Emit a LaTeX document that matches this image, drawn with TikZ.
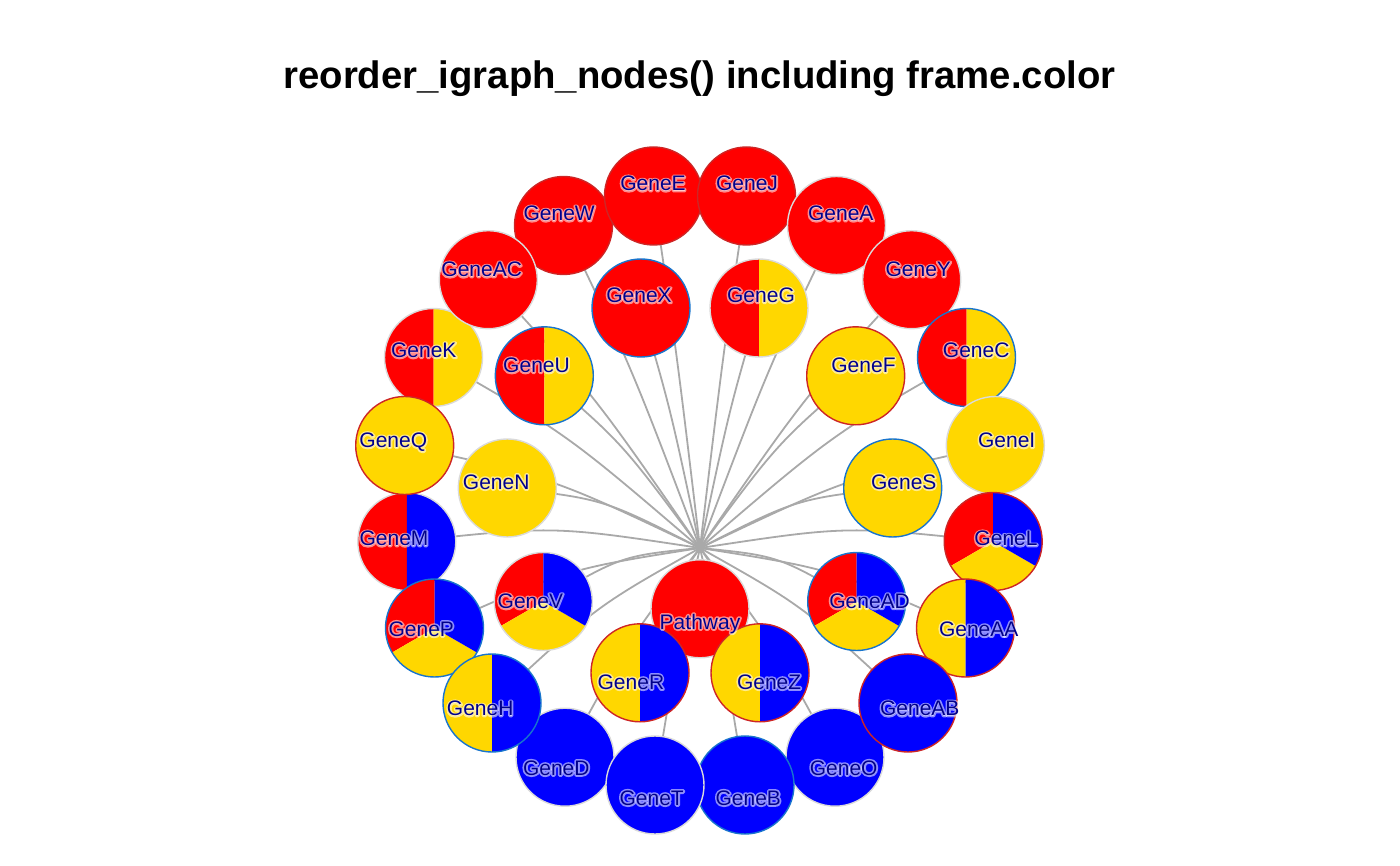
\documentclass[tikz,border=0pt]{standalone}
\usepackage{fontspec}
\usetikzlibrary{calc}
\setmainfont{Liberation Sans}
\definecolor{gred}{RGB}{255,0,0}
\definecolor{ggold}{RGB}{255,215,0}
\definecolor{gblue}{RGB}{0,0,255}
\definecolor{frgray}{RGB}{218,218,218}
\definecolor{frred}{RGB}{205,38,38}
\definecolor{frblue}{RGB}{24,116,205}
\definecolor{lblcol}{RGB}{0,0,139}
\definecolor{edgecol}{RGB}{169,169,169}
\newcommand\nrad{49}
\newcommand\lblfont{\fontsize{21}{21}\selectfont}
\newcommand\ttlfont{\bfseries\fontsize{38.3}{40}\selectfont}
\newcommand\gsolid[3]{%
  \fill[#2] (#1) circle[radius=\nrad];
  \draw[#3,nframe] (#1) circle[radius=\nrad];}
\newcommand\ghalf[4]{%
  \fill[#2] (#1) -- ++(0,\nrad) arc[start angle=90,end angle=270,radius=\nrad] -- cycle;
  \fill[#3] (#1) -- ++(0,-\nrad) arc[start angle=-90,end angle=90,radius=\nrad] -- cycle;
  \draw[#4,nframe] (#1) circle[radius=\nrad];}
\newcommand\gthird[2]{%
  \fill[gred] (#1) -- ++(90:\nrad) arc[start angle=90,end angle=210,radius=\nrad] -- cycle;
  \fill[ggold] (#1) -- ++(210:\nrad) arc[start angle=210,end angle=330,radius=\nrad] -- cycle;
  \fill[gblue] (#1) -- ++(330:\nrad) arc[start angle=330,end angle=450,radius=\nrad] -- cycle;
  \draw[#2,nframe] (#1) circle[radius=\nrad];}
\newcommand\halotxt[1]{%
  \rlap{\addfontfeature{FakeBold=16}\pgfsetroundjoin\pgfsetroundcap\pgfsetstrokeopacity{0.55}\pgfsetfillopacity{0.55}\color{white}#1}%
  \pgfsetstrokeopacity{1}\pgfsetfillopacity{1}\pgfsetmiterjoin\pgfsetbuttcap\color{lblcol}#1}
\newcommand\glab[4]{\node[lbl] (#1) at (#2,#3) {\halotxt{#4}};}
\begin{document}
\begin{tikzpicture}[x=1pt,y=1pt,
  edge/.style={draw=edgecol,line width=1.8pt},
  nframe/.style={line width=1.4pt},
  lbl/.style={font=\lblfont,anchor=base,inner sep=0pt}]
\useasboundingbox (0,0) rectangle (1400,-866);
% title
\node[font=\ttlfont,anchor=base,inner sep=0pt] (title) at (699.5,-89) {reorder\_igraph\_nodes() including frame.color};
% positions
\coordinate (hub) at (700,-548);
\coordinate (nPath) at (700,-608.8);
\coordinate (nE) at (653.5,-196);
\coordinate (nJ) at (746.5,-196);
\coordinate (nW) at (563.5,-225.5);
\coordinate (nA) at (836.5,-225.5);
\coordinate (nAC) at (488.3,-279.7);
\coordinate (nY) at (911.7,-279.7);
\coordinate (nK) at (433.5,-357.5);
\coordinate (nC) at (966.5,-357.5);
\coordinate (nQ) at (404.7,-445.5);
\coordinate (nI) at (995.3,-445.5);
\coordinate (nM) at (406.8,-541.5);
\coordinate (nL) at (993.2,-541.5);
\coordinate (nP) at (434.5,-628);
\coordinate (nAA) at (965.5,-628);
\coordinate (nH) at (492,-703);
\coordinate (nAB) at (908,-703);
\coordinate (nD) at (565,-757.2);
\coordinate (nO) at (835,-757.2);
\coordinate (nT) at (655,-785);
\coordinate (nB) at (745,-785);
\coordinate (nX) at (641,-308);
\coordinate (nG) at (759,-308);
\coordinate (nU) at (544.3,-375.8);
\coordinate (nF) at (855.7,-375.8);
\coordinate (nN) at (507.3,-488);
\coordinate (nS) at (892.7,-488);
\coordinate (nV) at (543.3,-601.5);
\coordinate (nAD) at (856.7,-601.5);
\coordinate (nR) at (640,-672.8);
\coordinate (nZ) at (760,-672.8);
% edges
\foreach \n in {E,W,AC,K,Q,M,P,H,D,T,X,U,N,V,R,J,A,Y,C,I,L,AA,AB,O,B,G,F,S,AD,Z}
  \draw[edge] (n\n) .. controls ($(n\n)!0.5!(hub)+(0,19)$) .. (hub);
% vertices
\gsolid{nPath}{gred}{frgray}
\gsolid{nW}{gred}{frred}
\gsolid{nE}{gred}{frred}
\gsolid{nJ}{gred}{frred}
\gsolid{nA}{gred}{frgray}
\gsolid{nY}{gred}{frgray}
\ghalf{nC}{gred}{ggold}{frblue}
\gsolid{nI}{ggold}{frgray}
\gthird{nL}{frred}
\ghalf{nAA}{ggold}{gblue}{frred}
\gsolid{nO}{gblue}{frgray}
\gsolid{nAB}{gblue}{frred}
\gsolid{nB}{gblue}{frblue}
\gsolid{nD}{gblue}{frgray}
\gsolid{nT}{gblue}{frgray}
\ghalf{nM}{gred}{gblue}{frgray}
\gthird{nP}{frblue}
\ghalf{nH}{ggold}{gblue}{frblue}
\ghalf{nK}{gred}{ggold}{frgray}
\gsolid{nQ}{ggold}{frred}
\gsolid{nAC}{gred}{frgray}
\gsolid{nX}{gred}{frblue}
\ghalf{nG}{gred}{ggold}{frgray}
\ghalf{nU}{gred}{ggold}{frblue}
\gsolid{nF}{ggold}{frred}
\gsolid{nN}{ggold}{frgray}
\gsolid{nS}{ggold}{frblue}
\gthird{nV}{frgray}
\gthird{nAD}{frblue}
\ghalf{nR}{ggold}{gblue}{frred}
\ghalf{nZ}{ggold}{gblue}{frred}
% labels
\glab{lPath}{700}{-629.2}{Pathway}
\glab{lE}{653}{-190.8}{GeneE}
\glab{lJ}{747}{-190.8}{GeneJ}
\glab{lW}{559.2}{-220.8}{GeneW}
\glab{lA}{840.8}{-220.8}{GeneA}
\glab{lAC}{481.7}{-276.8}{GeneAC}
\glab{lY}{918.3}{-276.8}{GeneY}
\glab{lK}{423.8}{-357.5}{GeneK}
\glab{lC}{976.2}{-357.5}{GeneC}
\glab{lQ}{393.3}{-447.5}{GeneQ}
\glab{lI}{1006.7}{-447.5}{GeneI}
\glab{lM}{394}{-545.8}{GeneM}
\glab{lL}{1006}{-545.8}{GeneL}
\glab{lP}{421.3}{-636.3}{GeneP}
\glab{lAA}{978.7}{-636.3}{GeneAA}
\glab{lH}{480.2}{-715.8}{GeneH}
\glab{lAB}{919.8}{-715.8}{GeneAB}
\glab{lD}{556.3}{-775.2}{GeneD}
\glab{lO}{843.7}{-775.2}{GeneO}
\glab{lT}{651.7}{-805.2}{GeneT}
\glab{lB}{748.3}{-805.2}{GeneB}
\glab{lX}{639}{-302.5}{GeneX}
\glab{lG}{761}{-302.5}{GeneG}
\glab{lU}{536.5}{-372.5}{GeneU}
\glab{lF}{863.5}{-372.5}{GeneF}
\glab{lN}{496.2}{-489.2}{GeneN}
\glab{lS}{903.8}{-489.2}{GeneS}
\glab{lV}{530.4}{-608.5}{GeneV}
\glab{lAD}{869.6}{-608.5}{GeneAD}
\glab{lR}{630.9}{-689.2}{GeneR}
\glab{lZ}{769.1}{-689.2}{GeneZ}
\end{tikzpicture}
\end{document}
